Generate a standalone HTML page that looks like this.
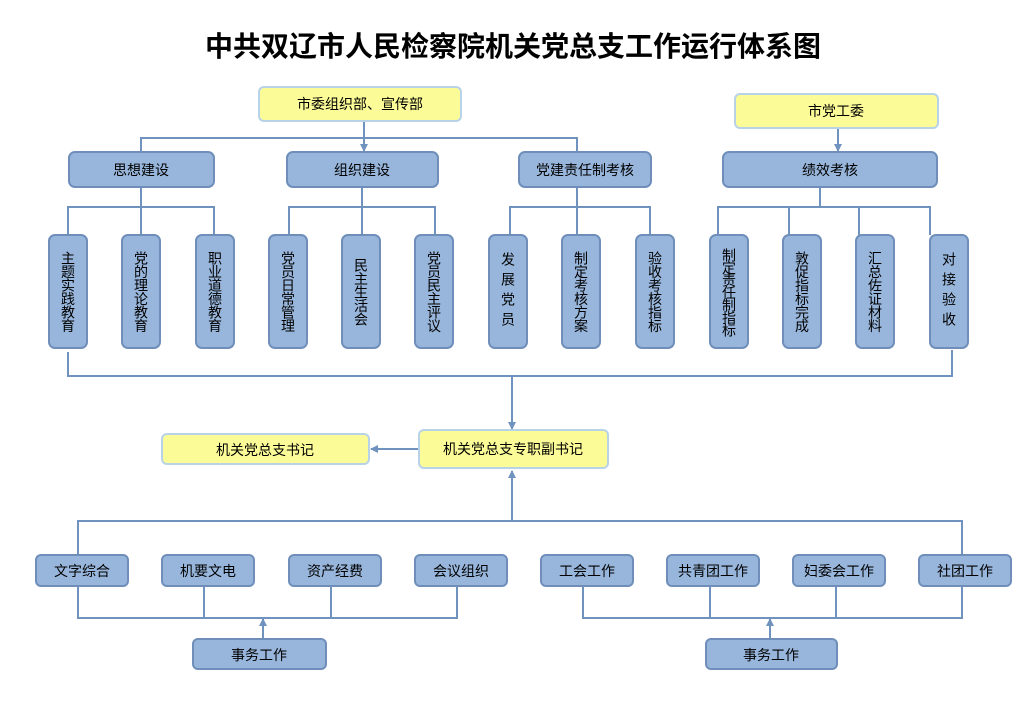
<!DOCTYPE html>
<html><head><meta charset="utf-8"><style>
html,body{margin:0;padding:0;background:#fff;}
body{position:relative;width:1026px;height:704px;overflow:hidden;}
svg text{font-family:"Liberation Sans","Noto Sans CJK SC",sans-serif;}
.v{position:absolute;top:235px;width:38px;height:113px;display:flex;align-items:center;justify-content:center;font-family:"Liberation Sans","Noto Sans CJK SC",sans-serif;font-size:14px;line-height:14px;color:#000;}
.v span{writing-mode:vertical-rl;letter-spacing:-0.5px;}
.v.w span{letter-spacing:6px;}
</style></head><body>
<svg width="1026" height="704" viewBox="0 0 1026 704" xmlns="http://www.w3.org/2000/svg" style="position:absolute;left:0;top:0">
<defs>
<marker id="a" markerWidth="8" markerHeight="8" refX="7" refY="4" orient="auto" markerUnits="userSpaceOnUse"><path d="M0,0 L8,4 L0,8 z" fill="#6f93be"/></marker>
</defs>
<text x="513" y="56" text-anchor="middle" font-size="28" font-weight="bold" fill="#000">中共双辽市人民检察院机关党总支工作运行体系图</text>
<g stroke="#6f93be" stroke-width="2" fill="none">
<polyline points="141,152 141,138 577,138 577,152"/>
<line x1="364" y1="121" x2="364" y2="151" marker-end="url(#a)"/>
<line x1="838" y1="128" x2="838" y2="151" marker-end="url(#a)"/>
<line x1="141" y1="187" x2="141" y2="207"/><polyline points="68,235 68,207 214,207 214,235"/><line x1="141" y1="207" x2="141" y2="235"/>
<line x1="362" y1="187" x2="362" y2="235"/><polyline points="289,235 289,207 435,207 435,235"/>
<line x1="577" y1="187" x2="577" y2="235"/><polyline points="510,235 510,207 650,207 650,235"/>
<line x1="820" y1="187" x2="820" y2="207"/><polyline points="718,235 718,207 930,207 930,235"/><line x1="789" y1="207" x2="789" y2="235"/><line x1="859" y1="207" x2="859" y2="235"/>
<polyline points="68,352 68,376 952,376 952,350"/>
<line x1="512" y1="376" x2="512" y2="429" marker-end="url(#a)"/>
<line x1="419" y1="449" x2="371" y2="449" marker-end="url(#a)"/>
<line x1="512" y1="521" x2="512" y2="471" marker-end="url(#a)"/>
<polyline points="78,555 78,521 962,521 962,555"/>
<polyline points="78,586 78,618 457,618 457,586"/><line x1="204" y1="586" x2="204" y2="618"/><line x1="331" y1="586" x2="331" y2="618"/>
<line x1="263" y1="639" x2="263" y2="619" marker-end="url(#a)"/>
<polyline points="583,586 583,618 962,618 962,586"/><line x1="710" y1="586" x2="710" y2="618"/><line x1="836" y1="586" x2="836" y2="618"/>
<line x1="770" y1="639" x2="770" y2="619" marker-end="url(#a)"/>
</g>
<g stroke="#b8d2e8" stroke-width="2" fill="#fbfb98">
<rect x="259" y="87" width="202" height="34" rx="5"/>
<rect x="735" y="94" width="203" height="34" rx="5"/>
<rect x="419" y="430" width="189" height="38" rx="5"/>
<rect x="162" y="434" width="207" height="30" rx="5"/>
</g>
<g stroke="#6f8fba" stroke-width="2" fill="#98b6dc">
<rect x="69" y="152" width="145" height="35" rx="6"/>
<rect x="287" y="152" width="151" height="35" rx="6"/>
<rect x="519" y="152" width="132" height="35" rx="6"/>
<rect x="723" y="152" width="214" height="35" rx="6"/>
<rect x="49" y="235" width="38" height="113" rx="6"/>
<rect x="122" y="235" width="38" height="113" rx="6"/>
<rect x="196" y="235" width="38" height="113" rx="6"/>
<rect x="269" y="235" width="38" height="113" rx="6"/>
<rect x="342" y="235" width="38" height="113" rx="6"/>
<rect x="415" y="235" width="38" height="113" rx="6"/>
<rect x="489" y="235" width="38" height="113" rx="6"/>
<rect x="562" y="235" width="38" height="113" rx="6"/>
<rect x="636" y="235" width="38" height="113" rx="6"/>
<rect x="710" y="235" width="38" height="113" rx="6"/>
<rect x="783" y="235" width="38" height="113" rx="6"/>
<rect x="856" y="235" width="38" height="113" rx="6"/>
<rect x="930" y="235" width="38" height="113" rx="6"/>
<rect x="36" y="555" width="92" height="31" rx="5"/>
<rect x="162" y="555" width="92" height="31" rx="5"/>
<rect x="289" y="555" width="92" height="31" rx="5"/>
<rect x="415" y="555" width="92" height="31" rx="5"/>
<rect x="541" y="555" width="92" height="31" rx="5"/>
<rect x="667" y="555" width="92" height="31" rx="5"/>
<rect x="793" y="555" width="92" height="31" rx="5"/>
<rect x="919" y="555" width="92" height="31" rx="5"/>
<rect x="193" y="639" width="133" height="30" rx="5"/>
<rect x="706" y="639" width="131" height="30" rx="5"/>
</g>
<g font-size="14" fill="#000" text-anchor="middle">
<text x="360" y="109">市委组织部、宣传部</text>
<text x="836" y="116">市党工委</text>
<text x="141" y="175">思想建设</text>
<text x="362" y="175">组织建设</text>
<text x="585" y="175">党建责任制考核</text>
<text x="830" y="175">绩效考核</text>
<text x="513" y="454">机关党总支专职副书记</text>
<text x="265" y="455">机关党总支书记</text>
<text x="82" y="576">文字综合</text>
<text x="208" y="576">机要文电</text>
<text x="335" y="576">资产经费</text>
<text x="461" y="576">会议组织</text>
<text x="587" y="576">工会工作</text>
<text x="713" y="576">共青团工作</text>
<text x="839" y="576">妇委会工作</text>
<text x="965" y="576">社团工作</text>
<text x="259" y="660">事务工作</text>
<text x="771" y="660">事务工作</text>
</g>
</svg>
<div class="v" style="left:49px"><span>主题实践教育</span></div>
<div class="v" style="left:122px"><span>党的理论教育</span></div>
<div class="v" style="left:196px"><span>职业道德教育</span></div>
<div class="v" style="left:269px"><span>党员日常管理</span></div>
<div class="v" style="left:342px"><span>民主生活会</span></div>
<div class="v" style="left:415px"><span>党员民主评议</span></div>
<div class="v w" style="left:489px"><span>发展党员</span></div>
<div class="v" style="left:562px"><span>制定考核方案</span></div>
<div class="v" style="left:636px"><span>验收考核指标</span></div>
<div class="v" style="left:710px"><span style="letter-spacing:-1.5px">制定责任制指标</span></div>
<div class="v" style="left:783px"><span>敦促指标完成</span></div>
<div class="v" style="left:856px"><span>汇总佐证材料</span></div>
<div class="v w" style="left:930px"><span>对接验收</span></div>
</body></html>
